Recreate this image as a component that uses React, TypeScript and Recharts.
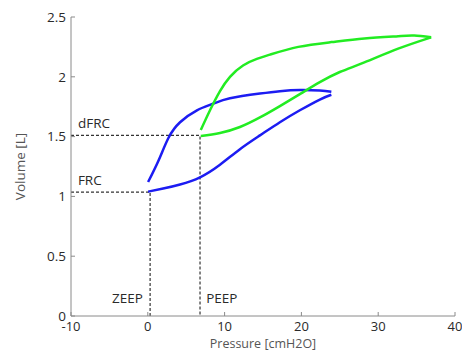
import React from 'react';
import { LineChart, Line, XAxis, YAxis, ReferenceDot } from 'recharts';

const xTicks = [-10, 0, 10, 20, 30, 40];
const yTicks = [0, 0.5, 1, 1.5, 2, 2.5];

// ZEEP loop (blue)
const blueLower = [
  { p: 0.04, v: 1.04 }, { p: 2.0, v: 1.066 }, { p: 4.2, v: 1.1 }, { p: 6.8, v: 1.16 },
  { p: 9.4, v: 1.265 }, { p: 12.0, v: 1.395 }, { p: 14.6, v: 1.51 }, { p: 17.2, v: 1.62 },
  { p: 19.8, v: 1.72 }, { p: 22.4, v: 1.81 }, { p: 23.9, v: 1.85 },
];
const blueUpper = [
  { p: 0.04, v: 1.12 }, { p: 1.4, v: 1.3 }, { p: 2.7, v: 1.49 }, { p: 4.2, v: 1.62 },
  { p: 6.4, v: 1.72 }, { p: 8.5, v: 1.775 }, { p: 10.7, v: 1.82 }, { p: 14.6, v: 1.86 },
  { p: 17.2, v: 1.88 }, { p: 19.8, v: 1.89 }, { p: 22.4, v: 1.885 }, { p: 23.9, v: 1.875 },
];
// PEEP loop (green)
const greenUpper = [
  { p: 6.9, v: 1.555 }, { p: 8.1, v: 1.72 }, { p: 9.4, v: 1.88 }, { p: 10.7, v: 2.0 },
  { p: 12.4, v: 2.095 }, { p: 14.2, v: 2.15 }, { p: 15.9, v: 2.185 }, { p: 19.6, v: 2.25 },
  { p: 23.9, v: 2.29 }, { p: 28.2, v: 2.32 }, { p: 32.6, v: 2.34 }, { p: 34.7, v: 2.345 },
  { p: 36.9, v: 2.33 },
];
const greenLower = [
  { p: 6.9, v: 1.505 }, { p: 9.4, v: 1.53 }, { p: 12.0, v: 1.58 }, { p: 14.6, v: 1.66 },
  { p: 17.2, v: 1.755 }, { p: 19.8, v: 1.855 }, { p: 22.4, v: 1.955 }, { p: 25.0, v: 2.04 },
  { p: 28.2, v: 2.12 }, { p: 32.6, v: 2.235 }, { p: 36.9, v: 2.33 },
];
// Dashed guides
const dfrcGuide = [{ p: -10, v: 1.51 }, { p: 6.8, v: 1.51 }, { p: 6.8, v: 0 }];
const frcGuide = [{ p: -10, v: 1.035 }, { p: 0.3, v: 1.035 }, { p: 0.3, v: 0 }];

const FONT = '"Open Sans", sans-serif';
const AXIS = '#8a8a8a';
const TXT = '#2a2a2a';
const TITLE = '#555555';
const BLUE = '#1c1cf2';
const GREEN = '#22ec22';

const Lbl = (props: any) => {
  const { viewBox, value, anchor } = props;
  const x = viewBox.cx !== undefined ? viewBox.cx : viewBox.x;
  const y = viewBox.cy !== undefined ? viewBox.cy : viewBox.y;
  return (
    <text x={x} y={y} dy="0.35em" textAnchor={anchor} fontFamily={FONT} fontSize={13.5} fill={TXT}>
      {value}
    </text>
  );
};

const XTitle = (props: any) => {
  const { viewBox } = props;
  const cx = viewBox.x + viewBox.width / 2;
  return (
    <text x={cx} y={344} dy="0.35em" textAnchor="middle" fontFamily={FONT} fontSize={12.5} fill={TITLE}>
      Pressure [cmH2O]
    </text>
  );
};

const YTitle = (props: any) => {
  const { viewBox } = props;
  const cy = viewBox.y + viewBox.height / 2;
  return (
    <text x={20} y={cy} dy="0.35em" textAnchor="middle" transform={`rotate(-90 20 ${cy})`} fontFamily={FONT} fontSize={13.5} fill={TITLE}>
      Volume [L]
    </text>
  );
};

export default function App() {
  return (
    <div style={{ position: 'absolute', left: 0, top: 0, background: '#fff' }}>
      <LineChart width={462} height={352} margin={{ top: 17, right: 7, bottom: 0, left: 0 }}>
        <XAxis
          xAxisId="b" dataKey="p" type="number" domain={[-10, 40]} ticks={xTicks}
          allowDataOverflow height={36} stroke={AXIS} tickSize={-4} tickMargin={10}
          tick={{ fill: TXT, fontFamily: FONT, fontSize: 13 }}
          label={<XTitle />}
        />
        <XAxis
          xAxisId="t" orientation="top" dataKey="p" type="number" domain={[-10, 40]} ticks={xTicks}
          height={0} stroke={AXIS} tickSize={-4} tickFormatter={() => ''}
        />
        <YAxis
          yAxisId="l" type="number" domain={[0, 2.5]} ticks={yTicks} width={71}
          stroke={AXIS} tickSize={-4} tickMargin={9}
          tick={{ fill: TXT, fontFamily: FONT, fontSize: 13.5 }}
          label={<YTitle />}
        />
        <YAxis
          yAxisId="r" orientation="right" type="number" domain={[0, 2.5]} ticks={yTicks} width={0}
          stroke={AXIS} tickSize={-4} tickFormatter={() => ''}
        />
        <Line xAxisId="b" yAxisId="l" data={dfrcGuide} dataKey="v" type="linear" stroke="#333" strokeWidth={1.2} strokeDasharray="3 2" dot={false} isAnimationActive={false} />
        <Line xAxisId="b" yAxisId="l" data={frcGuide} dataKey="v" type="linear" stroke="#333" strokeWidth={1.2} strokeDasharray="3 2" dot={false} isAnimationActive={false} />
        <Line xAxisId="b" yAxisId="l" data={blueLower} dataKey="v" type="natural" stroke={BLUE} strokeWidth={2.5} dot={false} isAnimationActive={false} />
        <Line xAxisId="b" yAxisId="l" data={blueUpper} dataKey="v" type="natural" stroke={BLUE} strokeWidth={2.5} dot={false} isAnimationActive={false} />
        <Line xAxisId="b" yAxisId="l" data={greenLower} dataKey="v" type="natural" stroke={GREEN} strokeWidth={2.5} dot={false} isAnimationActive={false} />
        <Line xAxisId="b" yAxisId="l" data={greenUpper} dataKey="v" type="natural" stroke={GREEN} strokeWidth={2.5} dot={false} isAnimationActive={false} />
        <ReferenceDot xAxisId="b" yAxisId="l" x={-9.1} y={1.61} r={0} label={<Lbl value="dFRC" anchor="start" />} />
        <ReferenceDot xAxisId="b" yAxisId="l" x={-9.1} y={1.137} r={0} label={<Lbl value="FRC" anchor="start" />} />
        <ReferenceDot xAxisId="b" yAxisId="l" x={-0.63} y={0.15} r={0} label={<Lbl value="ZEEP" anchor="end" />} />
        <ReferenceDot xAxisId="b" yAxisId="l" x={7.6} y={0.15} r={0} label={<Lbl value="PEEP" anchor="start" />} />
      </LineChart>
    </div>
  );
}
